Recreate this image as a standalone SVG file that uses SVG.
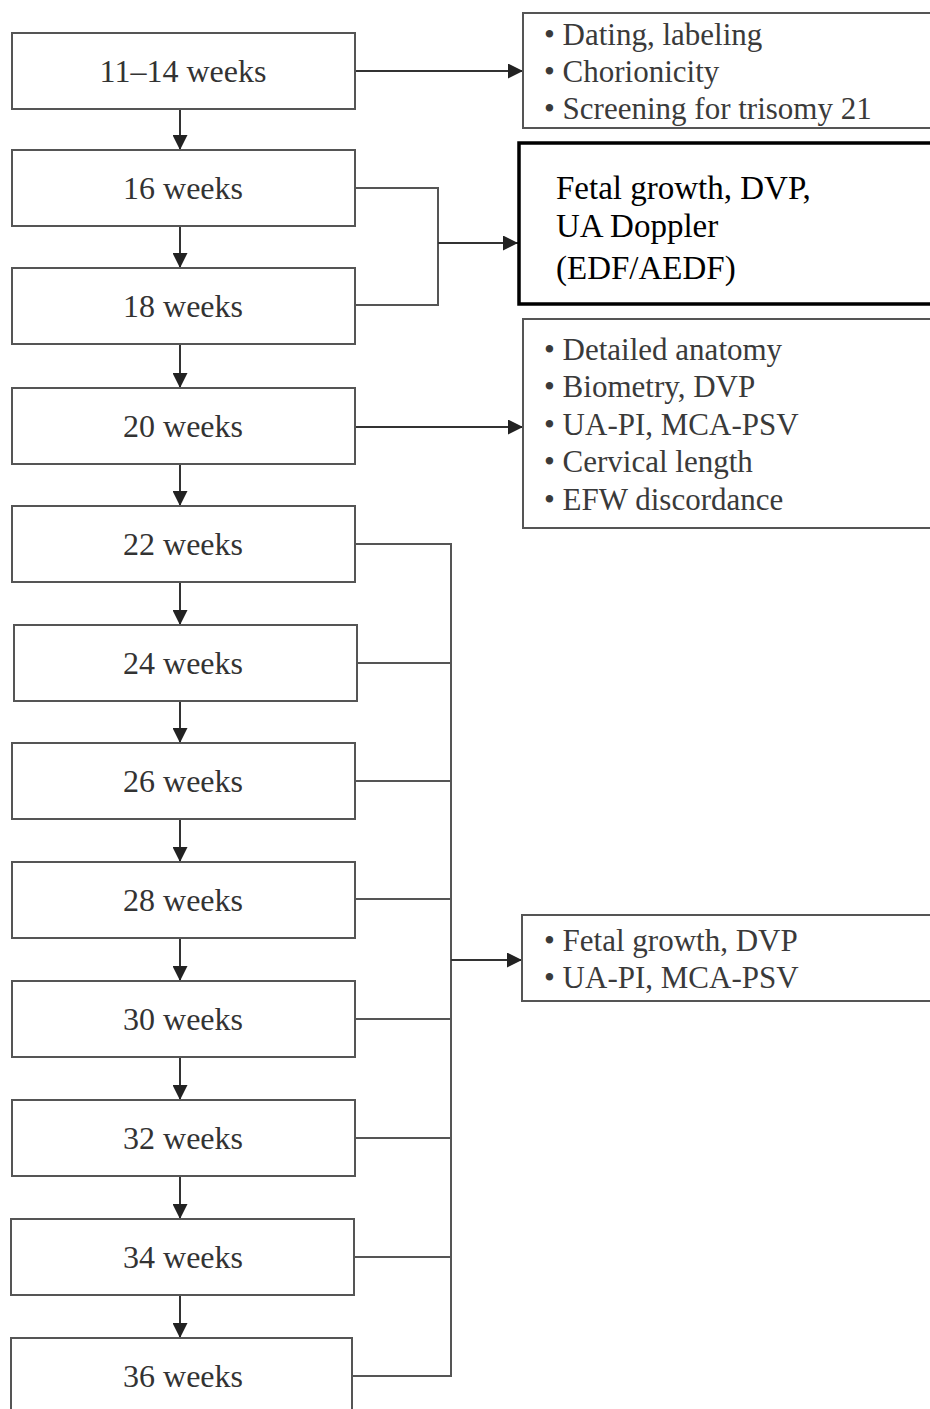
<svg xmlns="http://www.w3.org/2000/svg" width="930" height="1409" viewBox="0 0 930 1409">
<defs>
<marker id="ah" viewBox="0 0 10 10" markerUnits="userSpaceOnUse" markerWidth="16" markerHeight="15" refX="10" refY="5" orient="auto">
<path d="M0,0 L10,5 L0,10 z" fill="#222"/>
</marker>
<style>
.box{fill:#fff;stroke:#555;stroke-width:2}
.bold{fill:#fff;stroke:#000;stroke-width:3.5}
.lbl{font-family:"Liberation Serif",serif;font-size:32px;fill:#333;text-anchor:middle}
.lst{font-family:"Liberation Serif",serif;font-size:31px;fill:#3a3a3a}
.blk{font-family:"Liberation Serif",serif;font-size:33px;fill:#000}
.ln{fill:none;stroke:#555;stroke-width:2}
.ar{fill:none;stroke:#333;stroke-width:2;marker-end:url(#ah)}
</style>
</defs>
<rect width="930" height="1409" fill="#fff"/>
<g id="connectors">
<line class="ar" x1="180" y1="109" x2="180" y2="150"/>
<line class="ar" x1="180" y1="226" x2="180" y2="268"/>
<line class="ar" x1="180" y1="344" x2="180" y2="388"/>
<line class="ar" x1="180" y1="464" x2="180" y2="506"/>
<line class="ar" x1="180" y1="582" x2="180" y2="625"/>
<line class="ar" x1="180" y1="701" x2="180" y2="743"/>
<line class="ar" x1="180" y1="819" x2="180" y2="862"/>
<line class="ar" x1="180" y1="938" x2="180" y2="981"/>
<line class="ar" x1="180" y1="1057" x2="180" y2="1100"/>
<line class="ar" x1="180" y1="1176" x2="180" y2="1219"/>
<line class="ar" x1="180" y1="1295" x2="180" y2="1338"/>
<line class="ar" x1="355" y1="71" x2="523" y2="71"/>
<path class="ln" d="M355,188 H438 V305 H355"/>
<line class="ar" x1="438" y1="243" x2="518" y2="243"/>
<line class="ar" x1="355" y1="427" x2="523" y2="427"/>
<path class="ln" d="M355,544 H451 V1376 H352"/>
<path class="ln" d="M357,663 H451 M355,781 H451 M355,899 H451 M355,1019 H451 M355,1138 H451 M355,1257 H451"/>
<line class="ar" x1="451" y1="960" x2="522" y2="960"/>
</g>
<g id="n1114"><rect class="box" x="12" y="33" width="343" height="76"/><text class="lbl" x="183" y="82">11–14 weeks</text></g>
<g id="n16"><rect class="box" x="12" y="150" width="343" height="76"/><text class="lbl" x="183" y="199">16 weeks</text></g>
<g id="n18"><rect class="box" x="12" y="268" width="343" height="76"/><text class="lbl" x="183" y="317">18 weeks</text></g>
<g id="n20"><rect class="box" x="12" y="388" width="343" height="76"/><text class="lbl" x="183" y="437">20 weeks</text></g>
<g id="n22"><rect class="box" x="12" y="506" width="343" height="76"/><text class="lbl" x="183" y="555">22 weeks</text></g>
<g id="n24"><rect class="box" x="14" y="625" width="343" height="76"/><text class="lbl" x="183" y="674">24 weeks</text></g>
<g id="n26"><rect class="box" x="12" y="743" width="343" height="76"/><text class="lbl" x="183" y="792">26 weeks</text></g>
<g id="n28"><rect class="box" x="12" y="862" width="343" height="76"/><text class="lbl" x="183" y="911">28 weeks</text></g>
<g id="n30"><rect class="box" x="12" y="981" width="343" height="76"/><text class="lbl" x="183" y="1030">30 weeks</text></g>
<g id="n32"><rect class="box" x="12" y="1100" width="343" height="76"/><text class="lbl" x="183" y="1149">32 weeks</text></g>
<g id="n34"><rect class="box" x="11" y="1219" width="343" height="76"/><text class="lbl" x="183" y="1268">34 weeks</text></g>
<g id="n36"><rect class="box" x="11" y="1338" width="341" height="90"/><text class="lbl" x="183" y="1387">36 weeks</text></g>
<g id="r1"><rect class="box" x="523" y="13" width="420" height="115"/>
<text class="lst"><tspan x="544" y="45">• Dating, labeling</tspan><tspan x="544" y="82">• Chorionicity</tspan><tspan x="544" y="119">• Screening for trisomy 21</tspan></text></g>
<g id="r2"><rect class="bold" x="519" y="143" width="420" height="161"/>
<text class="blk"><tspan x="556" y="199">Fetal growth, DVP,</tspan><tspan x="556" y="237">UA Doppler</tspan><tspan x="556" y="279">(EDF/AEDF)</tspan></text></g>
<g id="r3"><rect class="box" x="523" y="319" width="420" height="209"/>
<text class="lst"><tspan x="544" y="360">• Detailed anatomy</tspan><tspan x="544" y="397">• Biometry, DVP</tspan><tspan x="544" y="435">• UA-PI, MCA-PSV</tspan><tspan x="544" y="472">• Cervical length</tspan><tspan x="544" y="510">• EFW discordance</tspan></text></g>
<g id="r4"><rect class="box" x="522" y="915" width="420" height="86"/>
<text class="lst"><tspan x="544" y="951">• Fetal growth, DVP</tspan><tspan x="544" y="988">• UA-PI, MCA-PSV</tspan></text></g>
</svg>
